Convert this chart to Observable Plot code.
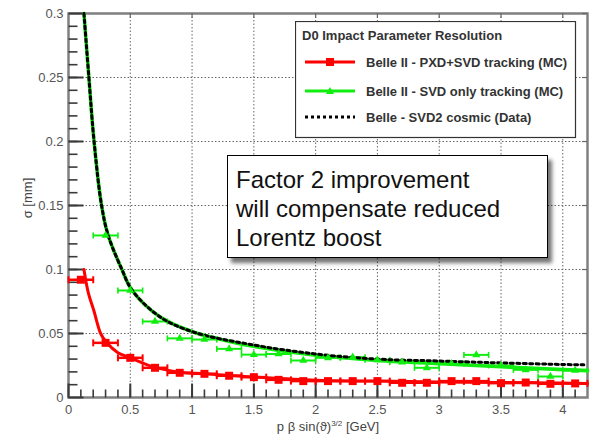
<!DOCTYPE html>
<html>
<head>
<meta charset="utf-8">
<script src="https://cdn.jsdelivr.net/npm/d3@7"></script>
<script src="https://cdn.jsdelivr.net/npm/@observablehq/plot@0.6"></script>
<style>
  body { margin: 0; background: #fff; }
  #wrap { position: relative; width: 616px; height: 448px; overflow: hidden;
          font-family: "Liberation Sans", Arial, Helvetica, sans-serif; }
  #note { position: absolute; left: 227px; top: 155px; width: 321px; height: 103px;
          box-sizing: border-box; border: 1px solid #000; background: #fff;
          box-shadow: 4px 5px 4px rgba(0,0,0,0.55);
          font-size: 24px; line-height: 29px; color: #111; padding: 9px 0 0 8px; white-space: nowrap; }
</style>
</head>
<body>
<div id="wrap"></div>
<script>
// ---------- data ----------
const redX = [0.1, 0.3, 0.5, 0.7, 0.9, 1.1, 1.3, 1.5, 1.7, 1.9, 2.1, 2.3, 2.5, 2.7, 2.9, 3.1, 3.3, 3.5, 3.7, 3.9, 4.1];
const redY = [0.092, 0.0427, 0.031, 0.0232, 0.0193, 0.0185, 0.017, 0.0159, 0.0138, 0.0128, 0.0128, 0.0128, 0.0128, 0.0115, 0.0115, 0.0128, 0.0128, 0.0112, 0.0117, 0.0107, 0.011];
const greenX = [0.3, 0.5, 0.7, 0.9, 1.1, 1.3, 1.5, 1.7, 1.9, 2.1, 2.3, 2.5, 2.7, 2.9, 3.1, 3.3, 3.5, 3.7, 3.9, 4.1];
const greenY = [0.1266, 0.0836, 0.0594, 0.0462, 0.0453, 0.038, 0.0335, 0.034, 0.0289, 0.031, 0.0315, 0.0294, 0.0276, 0.0232, 0.0265, 0.0333, 0.025, 0.0216, 0.0164, 0.0211];
const errHalf = 0.1;

const redFitX = [0.125, 0.16, 0.205, 0.26, 0.31, 0.4, 0.5, 0.7, 0.9, 1.1, 1.5, 2.0, 2.5, 3.0, 3.5, 4.0, 4.2];
const redFitY = [0.100, 0.082, 0.068, 0.050, 0.0427, 0.035, 0.031, 0.0235, 0.0198, 0.0185, 0.016, 0.0135, 0.0128, 0.0122, 0.0117, 0.0113, 0.011];
const greenFitX = [0.125, 0.165, 0.206, 0.266, 0.32, 0.43, 0.516, 0.745, 1.015, 1.217, 1.5, 2.0, 2.5, 3.0, 3.5, 4.0, 4.2];
const greenFitY = [0.300, 0.250, 0.201, 0.151, 0.127, 0.1005, 0.0836, 0.0627, 0.051, 0.0458, 0.040, 0.033, 0.029, 0.0265, 0.024, 0.0218, 0.021];
const belleFitX = [0.125, 0.165, 0.206, 0.266, 0.32, 0.43, 0.516, 0.745, 1.015, 1.5, 2.0, 2.5, 3.0, 3.5, 4.0, 4.17];
const belleFitY = [0.300, 0.250, 0.201, 0.151, 0.127, 0.1005, 0.0836, 0.0627, 0.051, 0.041, 0.034, 0.030, 0.0285, 0.027, 0.0258, 0.0255];

const xTicks = [0, 0.5, 1, 1.5, 2, 2.5, 3, 3.5, 4];
const yTicks = [0, 0.05, 0.1, 0.15, 0.2, 0.25, 0.3];
const xDomain = [0, 4.2];
const yDomain = [0, 0.3];

const legendTitle = "D0 Impact Parameter Resolution";
const legendLabels = ["Belle II - PXD+SVD tracking (MC)", "Belle II - SVD only tracking (MC)", "Belle - SVD2 cosmic (Data)"];
const noteLines = ["Factor 2 improvement", "will compensate reduced", "Lorentz boost"];

// ---------- layout ----------
const W = 616, H = 448, mt = 13, mb = 51, ml = 68, mr = 29;
const pxY = (yDomain[1] - yDomain[0]) / (H - mt - mb);
const pxX = (xDomain[1] - xDomain[0]) / (W - ml - mr);
const xMinor = d3.range(1, 42).map(v => v / 10);
const yMinor = d3.range(1, 30).map(v => v / 100);

const RED = "#ff0000", GREEN = "#10ee10";
const red = redX.map((x, i) => ({x, y: redY[i]}));
const green = greenX.map((x, i) => ({x, y: greenY[i]}));
const redFit = redFitX.map((x, i) => ({x, y: redFitY[i]}));
const greenFit = greenFitX.map((x, i) => ({x, y: greenFitY[i]}));
const belleFit = belleFitX.map((x, i) => ({x, y: belleFitY[i]}));

const grid = {stroke: "#666", strokeWidth: 1, strokeDasharray: "1.5,2"};
const tickC = "#3a3a3a";
const fontFam = '"Liberation Sans", Arial, Helvetica, sans-serif';

function vTicks(vals, yBase, len, w, c) {
  return Plot.link(vals, {x1: d => d, x2: d => d, y1: d => yBase, y2: d => yBase + len * pxY, stroke: c, strokeWidth: w});
}
function hTicks(vals, xBase, len, w, c) {
  return Plot.link(vals, {y1: d => d, y2: d => d, x1: d => xBase, x2: d => xBase + len * pxX, stroke: c, strokeWidth: w});
}
function errorBars(data, color, w, cap) {
  return [
    Plot.link(data, {y1: "y", y2: "y", x1: d => d.x - errHalf, x2: d => d.x + errHalf, stroke: color, strokeWidth: w}),
    Plot.link(data, {x1: d => d.x - errHalf, x2: d => d.x - errHalf, y1: d => d.y - cap * pxY, y2: d => d.y + cap * pxY, stroke: color, strokeWidth: w * 0.8}),
    Plot.link(data, {x1: d => d.x + errHalf, x2: d => d.x + errHalf, y1: d => d.y - cap * pxY, y2: d => d.y + cap * pxY, stroke: color, strokeWidth: w * 0.8})
  ];
}

// base layer: grid, axes, frame, bottom/left ticks
const base = Plot.plot({
  width: W, height: H,
  marginTop: mt, marginBottom: mb, marginLeft: ml, marginRight: mr,
  style: {fontFamily: '"Liberation Sans", Arial, Helvetica, sans-serif', background: "#fff"},
  x: {domain: xDomain, label: null},
  y: {domain: yDomain, label: null},
  marks: [
    Plot.ruleX(xTicks.filter(d => d > 0), {x: d => d, ...grid}),
    Plot.ruleY(yTicks.filter(d => d > 0 && d < yDomain[1]), {y: d => d, ...grid}),
    Plot.axisX({ticks: xTicks, tickSize: 0, tickPadding: 7, tickFormat: d => `${d}`, fontSize: 13, color: "#555"}),
    Plot.axisY({ticks: yTicks, tickSize: 0, tickPadding: 5, tickFormat: d => `${d}`, fontSize: 13, color: "#555"}),
    Plot.frame({stroke: "#808080", strokeWidth: 2.5}),
    vTicks(xMinor, yDomain[0], 8, 1.6, tickC),
    vTicks(xTicks, yDomain[0], 14, 2, tickC),
    hTicks(yMinor, xDomain[0], 9, 1.6, tickC),
    hTicks(yTicks, xDomain[0], 15, 2, tickC)
  ]
});

// top / right edge ticks in their own transparent layer
const edgeLayer = Plot.plot({
  width: W, height: H,
  marginTop: mt, marginBottom: mb, marginLeft: ml, marginRight: mr,
  style: {background: "transparent", position: "absolute", left: "0px", top: "0px"},
  x: {domain: xDomain, axis: null},
  y: {domain: yDomain, axis: null},
  marks: [
    Plot.ruleX(xTicks.filter(d => d > 0), {x: d => d, y1: d => yDomain[1], y2: d => yDomain[1] - 5 * pxY, stroke: "#666", strokeWidth: 1.2}),
    Plot.ruleY(yTicks.filter(d => d > 0), {y: d => d, x1: d => xDomain[1], x2: d => xDomain[1] - 5 * pxX, stroke: "#666", strokeWidth: 1.2})
  ]
});

// data layer
const dataLayer = Plot.plot({
  width: W, height: H,
  marginTop: mt, marginBottom: mb, marginLeft: ml, marginRight: mr,
  style: {background: "transparent", position: "absolute", left: "0px", top: "0px"},
  x: {domain: xDomain, axis: null},
  y: {domain: yDomain, axis: null},
  marks: [
    ...errorBars(red, RED, 2.5, 3.5),
    Plot.line(redFit, {x: "x", y: "y", stroke: RED, strokeWidth: 3, curve: "catmull-rom"}),
    Plot.dot(red, {x: "x", y: "y", symbol: "square", r: 4.5, fill: RED, stroke: "none"}),
    ...errorBars(green, GREEN, 2, 3),
    Plot.line(greenFit, {x: "x", y: "y", stroke: GREEN, strokeWidth: 3.6, curve: "catmull-rom"}),
    Plot.line(belleFit, {x: "x", y: "y", stroke: "#000", strokeWidth: 3, strokeDasharray: "3,3.4", curve: "catmull-rom"}),
    Plot.dot(green, {x: "x", y: "y", symbol: "triangle", r: 3, fill: GREEN, stroke: "none"})
  ]
});

const wrap = document.getElementById("wrap");
wrap.appendChild(base);
wrap.appendChild(edgeLayer);
wrap.appendChild(dataLayer);

// axis titles (overlay)
const tl = d3.select(wrap).append("svg")
  .attr("width", W).attr("height", H)
  .style("position", "absolute").style("left", "0px").style("top", "0px")
  .style("pointer-events", "none")
  .style("font-family", fontFam);
tl.append("text")
  .attr("transform", "translate(32,198) rotate(-90)")
  .attr("text-anchor", "middle")
  .attr("font-size", 13).attr("fill", "#444")
  .text("σ [mm]");
const xt = tl.append("text")
  .attr("x", 328).attr("y", 431)
  .attr("text-anchor", "middle")
  .attr("font-size", 13).attr("fill", "#444");
xt.append("tspan").text("p β sin(ϑ)");
xt.append("tspan").attr("dy", -5).attr("font-size", 8).text("3/2");
xt.append("tspan").attr("dy", 5).text(" [GeV]");

// legend
const lg = d3.select(wrap).append("svg")
  .attr("width", 282).attr("height", 118)
  .style("position", "absolute").style("left", "295px").style("top", "21px")
  .style("font-family", fontFam);
lg.append("rect").attr("x", 0.5).attr("y", 0.5).attr("width", 280).attr("height", 116)
  .attr("fill", "#fff").attr("stroke", "#333").attr("stroke-width", 1.2);
lg.append("text").attr("x", 7).attr("y", 19).attr("font-size", 13).attr("font-weight", "bold")
  .attr("fill", "#333").text(legendTitle);
const rowY = [41, 70, 96];
const rowColor = [RED, GREEN, "#000"];
legendLabels.forEach((lab, i) => {
  const y = rowY[i];
  const ln = lg.append("line").attr("x1", 10).attr("x2", 60).attr("y1", y).attr("y2", y)
    .attr("stroke", rowColor[i]).attr("stroke-width", 3);
  if (i === 2) ln.attr("stroke-dasharray", "3,3");
  if (i === 0) lg.append("rect").attr("x", 31).attr("y", y - 4).attr("width", 8).attr("height", 8).attr("fill", RED);
  if (i === 1) lg.append("path").attr("d", `M35,${y - 4}L39,${y + 3}L31,${y + 3}Z`).attr("fill", GREEN);
  lg.append("text").attr("x", 71).attr("y", y + 5).attr("font-size", 13).attr("font-weight", "bold")
    .attr("fill", "#333").text(lab);
});

// annotation box
const note = d3.select(wrap).append("div").attr("id", "note");
noteLines.forEach(t => note.append("div").text(t));
</script>
</body>
</html>
